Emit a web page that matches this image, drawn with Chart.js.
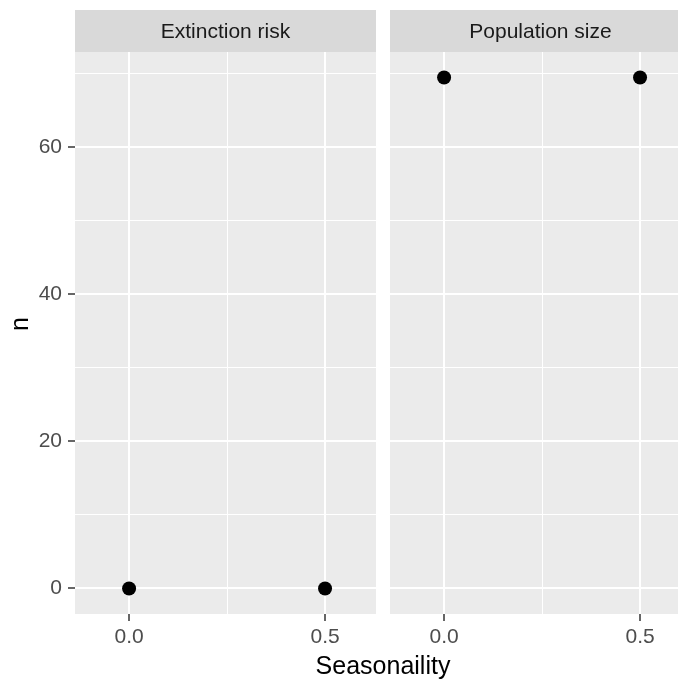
<!DOCTYPE html>
<html>
<head>
<meta charset="utf-8">
<title>Seasonaility facets</title>
<script src="https://cdn.jsdelivr.net/npm/chart.js@4.4.1/dist/chart.umd.min.js"></script>
<style>
  html, body { margin: 0; padding: 0; background: #ffffff; overflow: hidden; }
  #wrap { position: relative; width: 678px; height: 679px; overflow: hidden; }
  #wrap canvas { position: absolute; left: 0; top: 0; }
</style>
</head>
<body>
<div id="wrap">
  <canvas id="panelLeft" width="706" height="679"></canvas>
  <canvas id="panelRight" width="706" height="679"></canvas>
</div>
<script>
// ---- data ----
const seasonality = [0.0, 0.5];
const extinctionRiskN = [0, 0];
const populationSizeN = [69.5, 69.5];
const facetLabels = ['Extinction risk', 'Population size'];
const xTickValues = [0.0, 0.5];
const yTickValues = [0, 20, 40, 60];
const xAxisTitle = 'Seasonaility';
const yAxisTitle = 'n';

// ---- layout ----
const FONT = '"Liberation Sans", Arial, sans-serif';
const CANVAS_W = 706, CANVAS_H = 679;
const STRIP_TOP = 10, PANEL_TOP = 52, PANEL_BOTTOM = 614;
const LEFT_PANEL = { left: 75, right: 376 };
const RIGHT_PANEL = { left: 390, right: 691 };
const X_MIN = -0.138, X_MAX = 0.63;
const yPad = 0.05 * Math.max(...populationSizeN, ...extinctionRiskN);
const Y_MIN = 0 - yPad, Y_MAX = Math.max(...populationSizeN, ...extinctionRiskN) + yPad;

const near = (a, b) => Math.abs(a - b) < 1e-9;
const isMajor = (list, v) => list.some(t => near(t, v));

// grey panel background + facet strip
const facetPlugin = {
  id: 'facet',
  beforeDraw(chart, args, opts) {
    const { ctx, chartArea: a } = chart;
    ctx.save();
    ctx.fillStyle = '#EBEBEB';
    ctx.fillRect(a.left, a.top, a.right - a.left, a.bottom - a.top);
    ctx.fillStyle = '#D9D9D9';
    ctx.fillRect(a.left, STRIP_TOP, a.right - a.left, a.top - STRIP_TOP);
    ctx.fillStyle = '#1A1A1A';
    ctx.font = '21px ' + FONT;
    ctx.textAlign = 'center';
    ctx.textBaseline = 'middle';
    ctx.fillText(opts.label, (a.left + a.right) / 2, (STRIP_TOP + a.top) / 2 + 1);
    ctx.restore();
  },
  afterDraw(chart, args, opts) {
    const { ctx } = chart;
    ctx.save();
    ctx.fillStyle = '#000000';
    if (opts.xTitle) {
      ctx.font = '25px ' + FONT;
      ctx.textAlign = 'center';
      ctx.textBaseline = 'alphabetic';
      ctx.fillText(opts.xTitle, (LEFT_PANEL.left + RIGHT_PANEL.right) / 2, 674);
    }
    if (opts.yTitle) {
      ctx.font = '25px ' + FONT;
      ctx.translate(21, 324);
      ctx.rotate(-Math.PI / 2);
      ctx.textAlign = 'center';
      ctx.textBaseline = 'middle';
      ctx.fillText(opts.yTitle, 0, 0);
    }
    ctx.restore();
  }
};

function makePanel(canvasId, values, label, box, showY, extra) {
  return new Chart(document.getElementById(canvasId), {
    type: 'scatter',
    data: {
      datasets: [{
        data: seasonality.map((x, i) => ({ x: x, y: values[i] })),
        backgroundColor: '#000000',
        borderWidth: 0,
        pointRadius: 7,
        pointHoverRadius: 7
      }]
    },
    plugins: [facetPlugin],
    options: {
      responsive: false,
      animation: false,
      devicePixelRatio: 1,
      events: [],
      layout: {
        padding: {
          left: showY ? 0 : box.left,
          right: CANVAS_W - box.right,
          top: PANEL_TOP,
          bottom: 0
        }
      },
      plugins: {
        legend: { display: false },
        tooltip: { enabled: false },
        facet: Object.assign({ label: label }, extra)
      },
      scales: {
        x: {
          type: 'linear',
          min: X_MIN,
          max: X_MAX,
          afterFit(scale) { scale.height = CANVAS_H - PANEL_BOTTOM; },
          border: { display: false },
          grid: {
            color: '#FFFFFF',
            lineWidth: c => isMajor(xTickValues, c.tick.value) ? 2 : 1,
            drawTicks: true,
            tickLength: 7,
            tickWidth: 1.5,
            tickColor: c => isMajor(xTickValues, c.tick.value) ? '#333333' : 'rgba(0,0,0,0)'
          },
          ticks: {
            stepSize: 0.25,
            includeBounds: false,
            autoSkip: false,
            maxRotation: 0,
            padding: 4,
            color: '#4D4D4D',
            font: { family: FONT, size: 21 },
            callback: v => isMajor(xTickValues, v) ? Number(v).toFixed(1) : ''
          }
        },
        y: {
          type: 'linear',
          min: Y_MIN,
          max: Y_MAX,
          afterFit(scale) { scale.width = showY ? box.left : 0; },
          border: { display: false },
          grid: {
            color: '#FFFFFF',
            lineWidth: c => isMajor(yTickValues, c.tick.value) ? 2 : 1,
            drawTicks: showY,
            tickLength: 7,
            tickWidth: 1.5,
            tickColor: c => isMajor(yTickValues, c.tick.value) ? '#333333' : 'rgba(0,0,0,0)'
          },
          ticks: {
            display: showY,
            stepSize: 10,
            includeBounds: false,
            autoSkip: false,
            padding: 6,
            color: '#4D4D4D',
            font: { family: FONT, size: 21 },
            callback: v => isMajor(yTickValues, v) ? String(v) : ''
          }
        }
      }
    }
  });
}

makePanel('panelLeft', extinctionRiskN, facetLabels[0], LEFT_PANEL, true, { yTitle: yAxisTitle });
makePanel('panelRight', populationSizeN, facetLabels[1], RIGHT_PANEL, false, { xTitle: xAxisTitle });
</script>
</body>
</html>
